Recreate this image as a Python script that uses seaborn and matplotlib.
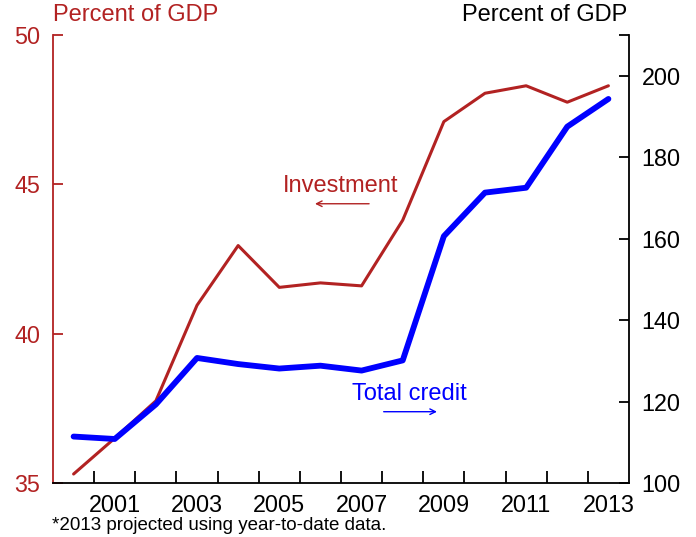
import matplotlib
matplotlib.use("Agg")
import matplotlib.pyplot as plt
import seaborn as sns
import pandas as pd

years = [2000, 2001, 2002, 2003, 2004, 2005, 2006, 2007, 2008, 2009, 2010, 2011, 2012, 2013]
investment = [35.3, 36.5, 37.75, 40.95, 42.95, 41.55, 41.7, 41.6, 43.8, 47.1, 48.05, 48.3, 47.75, 48.3]
total_credit = [111.4, 110.8, 119.3, 130.7, 129.2, 128.1, 128.8, 127.6, 130.1, 160.6, 171.3, 172.5, 187.5, 194.3]
xtick_labels = ["2001", "2003", "2005", "2007", "2009", "2011", "2013"]

sns.set_style("white")
plt.rcParams['font.family'] = ['Liberation Sans', 'DejaVu Sans']

RED = "#B22222"
BLUE = "#0000FF"

df = pd.DataFrame({"x": [y + 0.5 for y in years], "inv": investment, "cred": total_credit})

fig = plt.figure(figsize=(6.96, 5.37), dpi=100)
ax = fig.add_axes([0.0762, 0.1006, 0.9037 - 0.0762, 0.9348 - 0.1006])
ax2 = ax.twinx()

sns.lineplot(data=df, x="x", y="inv", ax=ax, color=RED, linewidth=2.2)
sns.lineplot(data=df, x="x", y="cred", ax=ax2, color=BLUE, linewidth=4.2)

ax.set_xlim(2000, 2014)
ax.set_ylim(35, 50)
ax2.set_ylim(100, 210)

ax.set_xlabel("")
ax.set_ylabel("")
ax2.set_ylabel("")

# x ticks: boundaries as major ticks, labels centred in years
ax.set_xticks(list(range(2001, 2014)))
ax.set_xticklabels([])
ax.set_xticks([int(l) + 0.5 for l in xtick_labels], minor=True)
ax.set_xticklabels(xtick_labels, minor=True)
ax.tick_params(axis="x", which="major", direction="in", length=9, width=1.3, color="black", bottom=True)
ax.tick_params(axis="x", which="minor", length=0, pad=8, labelsize=16.8, labelcolor="black", bottom=True)

ax.set_yticks([35, 40, 45, 50])
ax.tick_params(axis="y", which="major", direction="in", length=7, width=1.3, color=RED,
               labelcolor=RED, labelsize=16.8, pad=9, left=True)

ax2.set_yticks([100, 120, 140, 160, 180, 200, 210])
ax2.set_yticklabels(["100", "120", "140", "160", "180", "200", ""])
ax2.tick_params(axis="y", which="major", direction="in", length=7, width=1.3, color="black",
                labelcolor="black", labelsize=16.8, pad=9, right=True)

for a in (ax, ax2):
    a.spines["top"].set_visible(False)
    a.grid(False)
ax.spines["left"].set_color(RED)
ax.spines["left"].set_linewidth(1.3)
ax.spines["bottom"].set_color("black")
ax.spines["bottom"].set_linewidth(1.3)
ax.spines["right"].set_visible(False)
ax2.spines["left"].set_visible(False)
ax2.spines["bottom"].set_visible(False)
ax2.spines["right"].set_color("black")
ax2.spines["right"].set_linewidth(1.3)

# headers
fig.text(53 / 696, 1 - 15 / 537, "Percent of GDP", color=RED, fontsize=17, ha="left", va="center")
fig.text(627 / 696, 1 - 15 / 537, "Percent of GDP", color="black", fontsize=17, ha="right", va="center")

# series labels with arrows
ax.text(2006.99, 44.93, "Investment", color=RED, fontsize=17, ha="center", va="center")
ax.annotate("", xy=(2006.3, 44.35), xytext=(2007.75, 44.35),
            arrowprops=dict(arrowstyle="->", color=RED, lw=1.0))
ax2.text(2008.67, 121.9, "Total credit", color=BLUE, fontsize=17, ha="center", va="center")
ax2.annotate("", xy=(2009.4, 117.5), xytext=(2007.97, 117.5),
             arrowprops=dict(arrowstyle="->", color=BLUE, lw=1.0))

fig.text(52 / 696, 1 - 525 / 537, "*2013 projected using year-to-date data.", color="black",
         fontsize=13.5, ha="left", va="center")

fig.savefig("out.png", dpi=100)
